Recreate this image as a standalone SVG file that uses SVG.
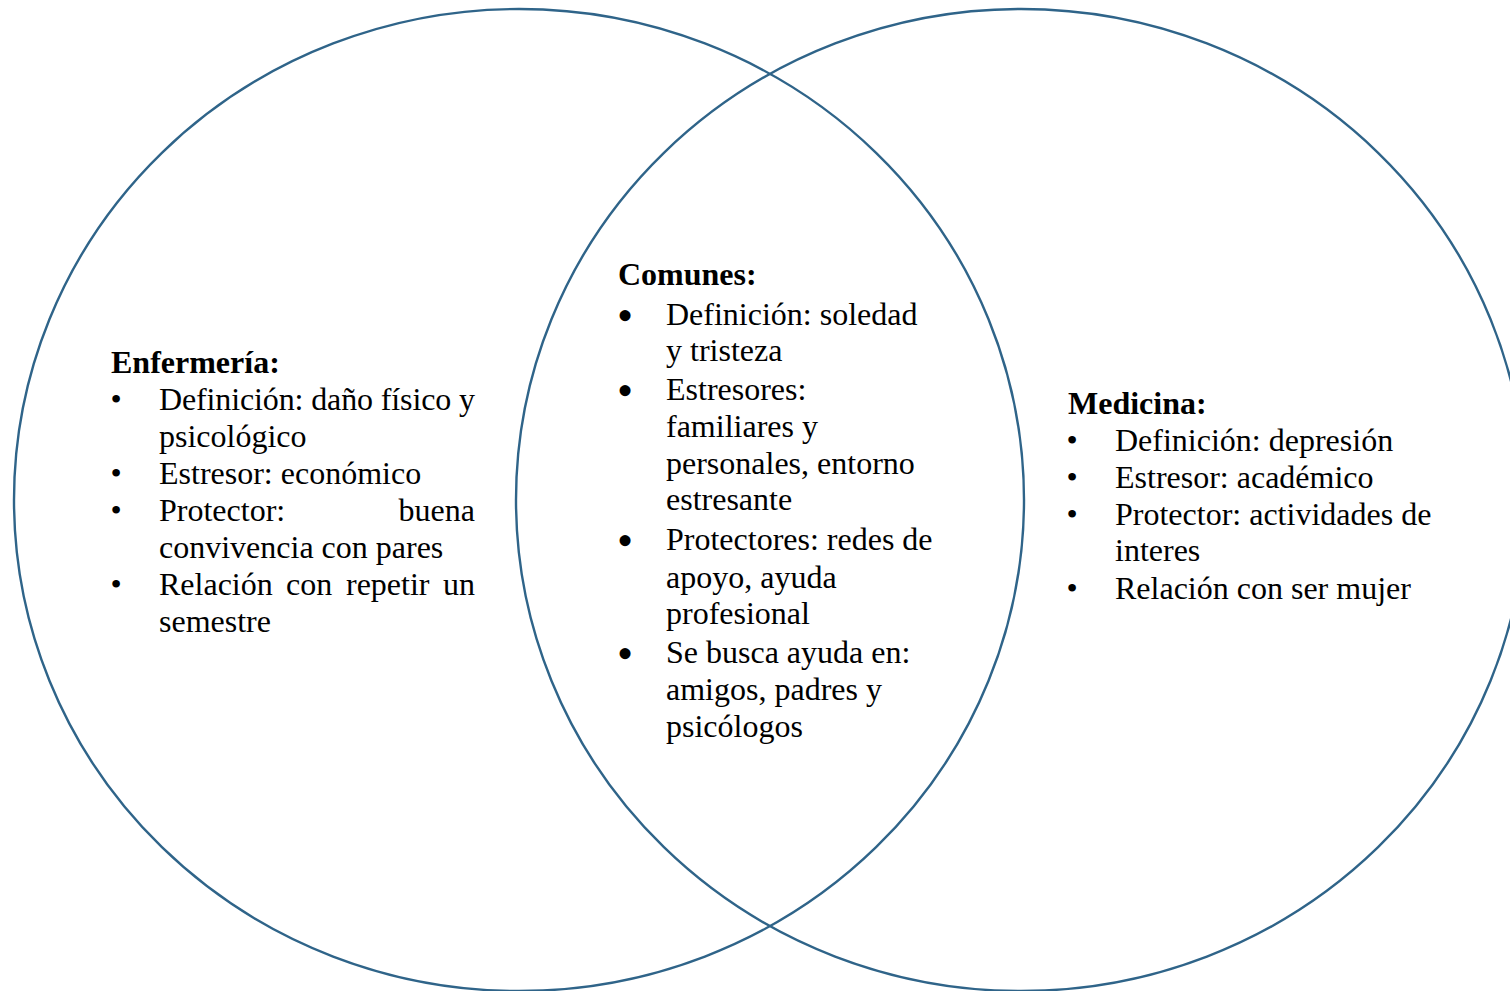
<svg xmlns="http://www.w3.org/2000/svg" width="1510" height="991" viewBox="0 0 1510 991">
<style>
.c{fill:none;stroke:#2f6489;stroke-width:2.4}
text{font-family:"Liberation Serif","Times New Roman",serif;font-size:32px;fill:#000}
.h{font-weight:bold}
.b{text-anchor:middle}
.bb{text-anchor:middle;font-size:46px}
.e{text-anchor:end}
</style>
<rect width="1510" height="991" fill="#fff"/>
<g id="circles">
<ellipse id="circle-enfermeria" class="c" cx="519" cy="500" rx="505" ry="491"/>
<ellipse id="circle-medicina" class="c" cx="1021" cy="500" rx="505" ry="491"/>
</g>
<g id="enfermeria" transform="translate(0,1)">
<text class="h" x="111" y="372">Enfermería:</text>
<text class="b" x="116" y="409">•</text>
<text x="159" y="409" textLength="316" lengthAdjust="spacing">Definición: daño físico y</text>
<text x="159" y="446">psicológico</text>
<text class="b" x="116" y="483">•</text>
<text x="159" y="483">Estresor: económico</text>
<text class="b" x="116" y="520">•</text>
<text x="159" y="520">Protector:</text>
<text class="e" x="475" y="520">buena</text>
<text x="159" y="557">convivencia con pares</text>
<text class="b" x="116" y="594">•</text>
<text x="159" y="594">Relación</text>
<text x="286" y="594">con</text>
<text x="346" y="594">repetir</text>
<text class="e" x="475" y="594">un</text>
<text x="159" y="631">semestre</text>
</g>
<g id="comunes" transform="translate(0,1)">
<text class="h" x="618" y="284">Comunes:</text>
<text class="bb" x="625" y="330">•</text>
<text x="666" y="324">Definición: soledad</text>
<text x="666" y="360">y tristeza</text>
<text class="bb" x="625" y="405">•</text>
<text x="666" y="399">Estresores:</text>
<text x="666" y="436">familiares y</text>
<text x="666" y="473">personales, entorno</text>
<text x="666" y="509">estresante</text>
<text class="bb" x="625" y="555">•</text>
<text x="666" y="549">Protectores: redes de</text>
<text x="666" y="587">apoyo, ayuda</text>
<text x="666" y="623">profesional</text>
<text class="bb" x="625" y="668">•</text>
<text x="666" y="662">Se busca ayuda en:</text>
<text x="666" y="699">amigos, padres y</text>
<text x="666" y="736">psicólogos</text>
</g>
<g id="medicina" transform="translate(0,1)">
<text class="h" x="1068" y="413">Medicina:</text>
<text class="b" x="1072" y="450">•</text>
<text x="1115" y="450">Definición: depresión</text>
<text class="b" x="1072" y="487">•</text>
<text x="1115" y="487">Estresor: académico</text>
<text class="b" x="1072" y="524">•</text>
<text x="1115" y="524">Protector: actividades de</text>
<text x="1115" y="560">interes</text>
<text class="b" x="1072" y="598">•</text>
<text x="1115" y="598">Relación con ser mujer</text>
</g>
</svg>
